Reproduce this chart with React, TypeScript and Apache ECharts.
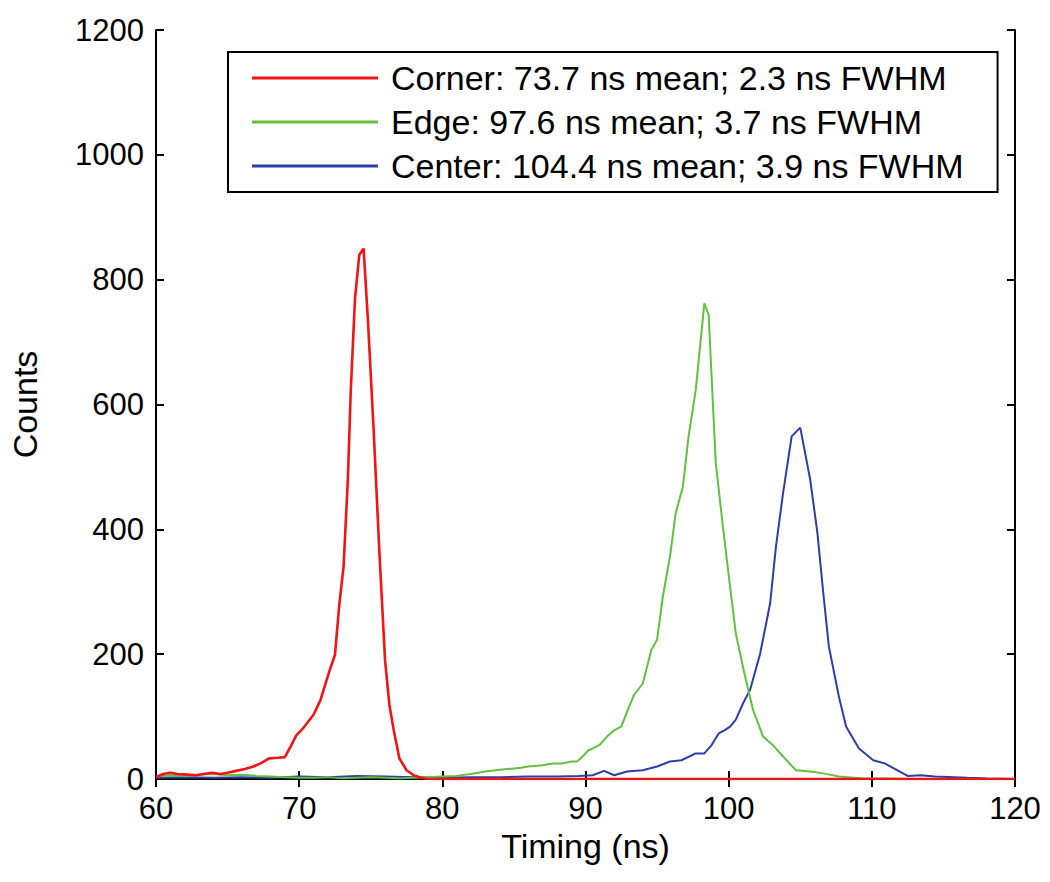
import React, { useEffect, useRef } from "react";
import * as echarts from "echarts";

const xTicksMin = 60;
const xTicksMax = 120;
const xTickStep = 10;
const yTicksMin = 0;
const yTicksMax = 1200;
const yTickStep = 200;

const seriesNames = [
  "Corner: 73.7 ns mean; 2.3 ns FWHM",
  "Edge: 97.6 ns mean; 3.7 ns FWHM",
  "Center: 104.4 ns mean; 3.9 ns FWHM",
];

const cornerTime = [60.0, 60.5, 61.0, 61.5, 62.2, 62.8, 63.3, 63.9, 64.5, 65.0, 65.6, 66.2, 66.8, 67.3, 67.9, 68.5, 69.0, 69.4, 69.8, 70.3, 71.0, 71.5, 71.8, 72.1, 72.5, 72.8, 73.1, 73.4, 73.6, 73.9, 74.2, 74.5, 74.8, 75.2, 75.6, 76.0, 76.3, 76.6, 77.0, 77.5, 78.0, 78.5, 79.0, 85, 90, 95, 100, 105, 110, 115, 120];
const cornerCounts = [3, 8, 10, 8, 7, 6, 8, 10, 8, 10, 13, 16, 20, 25, 33, 34, 35, 52, 70, 82, 103, 127, 150, 172, 199, 279, 340, 479, 620, 770, 840, 850, 736, 560, 365, 190, 119, 79, 33, 14, 6, 2, 0, 0, 0, 0, 0, 0, 0, 0, 0];

const edgeTime = [60, 61, 62, 63, 64, 65, 66, 67, 68, 69, 70, 71, 72, 73, 74, 75, 76, 77, 78, 79, 80, 81, 82, 83, 84, 85, 85.5, 86, 87, 87.7, 88.4, 89, 89.4, 89.8, 90.2, 90.6, 91.0, 91.5, 92.0, 92.5, 93.0, 93.4, 94.0, 94.6, 95.0, 95.4, 95.9, 96.3, 96.8, 97.2, 97.7, 98.3, 98.6, 99.1, 99.6, 100.1, 100.5, 101.1, 101.7, 102.4, 103.1, 103.8, 104.7, 105.7, 106.6, 107.7, 109.4, 111, 113, 115, 117, 120];
const edgeCounts = [4, 6, 5, 7, 8, 6, 7, 5, 4, 3, 2, 2, 3, 1, 2, 3, 2, 1, 2, 3, 4, 5, 8, 12, 15, 17, 18, 20, 22, 25, 25, 28, 28, 36, 46, 50, 55, 68, 78, 84, 113, 135, 153, 207, 223, 292, 356, 426, 468, 549, 623, 762, 744, 506, 404, 308, 233, 169, 111, 68, 54, 36, 14, 12, 9, 4, 1, 1, 0, 0, 0, 0];

const centerTime = [60, 62, 64, 66, 68, 70, 72, 74, 76, 78, 80, 82, 84, 86, 88, 89.5, 90.5, 91.3, 92.0, 92.9, 94.0, 95.0, 95.9, 96.7, 97.7, 98.3, 98.8, 99.3, 99.7, 100.1, 100.5, 101.0, 101.5, 102.2, 102.9, 103.3, 103.8, 104.4, 105.0, 105.7, 106.2, 106.6, 107.0, 107.7, 108.2, 109.1, 110.1, 110.9, 111.8, 112.5, 113.4, 114.4, 116.7, 118, 120];
const centerCounts = [2, 3, 2, 3, 2, 4, 3, 5, 4, 3, 2, 3, 3, 4, 4, 5, 6, 13, 6, 12, 14, 20, 28, 30, 41, 41, 54, 73, 78, 84, 95, 121, 143, 201, 282, 372, 458, 549, 563, 479, 394, 300, 212, 132, 84, 49, 30, 25, 14, 5, 6, 4, 2, 1, 0];

const colors = ["#f01414", "#62c040", "#2b3fa6"];
const widths = [2.6, 2, 2];

const zip = (xs: number[], ys: number[]) => xs.map((x, i) => [x, ys[i]]);

const FONT = "Liberation Sans, Arial, sans-serif";

export default function App() {
  const ref = useRef<HTMLDivElement>(null);
  useEffect(() => {
    if (!ref.current) return;
    const chart = echarts.init(ref.current, undefined, { renderer: "svg" });
    const axisCommon = {
      axisLine: { show: true, lineStyle: { color: "#000", width: 2 } },
      axisTick: { show: true, inside: true, length: 8, lineStyle: { color: "#000", width: 2 } },
      splitLine: { show: false },
    };
    const datasets = [zip(cornerTime, cornerCounts), zip(edgeTime, edgeCounts), zip(centerTime, centerCounts)];
    chart.setOption({
      animation: false,
      backgroundColor: "#fff",
      textStyle: { fontFamily: FONT },
      grid: { left: 152, right: 35, top: 30, bottom: 103 },
      legend: {
        orient: "vertical",
        left: 228,
        top: 52,
        backgroundColor: "#fff",
        borderColor: "#000",
        borderWidth: 2,
        borderRadius: 0,
        padding: [8, 34, 8, 24],
        itemWidth: 126,
        itemHeight: 3,
        itemGap: 8,
        icon: "rect",
        data: seriesNames.map((n, i) => ({ name: n, itemStyle: { color: colors[i] } })),
        textStyle: { fontSize: 34, color: "#000", fontFamily: FONT, lineHeight: 36, padding: [0, 0, 0, 8] },
        z: 10,
      },
      xAxis: [
        {
          type: "value",
          min: xTicksMin,
          max: xTicksMax,
          interval: xTickStep,
          name: "Timing (ns)",
          nameLocation: "middle",
          nameGap: 50,
          nameTextStyle: { fontSize: 34, color: "#000", fontFamily: FONT },
          axisLabel: { fontSize: 31, color: "#000", margin: 14, fontFamily: FONT },
          ...axisCommon,
        },
        {
          type: "value",
          position: "top",
          min: xTicksMin,
          max: xTicksMax,
          interval: xTickStep,
          axisLabel: { show: false },
          ...axisCommon,
        },
      ],
      yAxis: [
        {
          type: "value",
          min: yTicksMin,
          max: yTicksMax,
          interval: yTickStep,
          name: "Counts",
          nameLocation: "middle",
          nameGap: 114,
          nameTextStyle: { fontSize: 34, color: "#000", fontFamily: FONT },
          axisLabel: { fontSize: 31, color: "#000", margin: 12, fontFamily: FONT, formatter: (v: number) => String(v) },
          ...axisCommon,
        },
        {
          type: "value",
          position: "right",
          min: yTicksMin,
          max: yTicksMax,
          interval: yTickStep,
          axisLabel: { show: false },
          ...axisCommon,
        },
      ],
      series: [2, 1, 0].map((i) => ({
        name: seriesNames[i],
        type: "line",
        data: datasets[i],
        showSymbol: false,
        symbol: "none",
        lineStyle: { color: colors[i], width: widths[i] },
        itemStyle: { color: colors[i] },
        z: 3 + (2 - i),
      })),
    });
    return () => chart.dispose();
  }, []);
  return (
    <div
      ref={ref}
      style={{ position: "absolute", left: 0, top: 0, width: 1050, height: 882 }}
    />
  );
}
